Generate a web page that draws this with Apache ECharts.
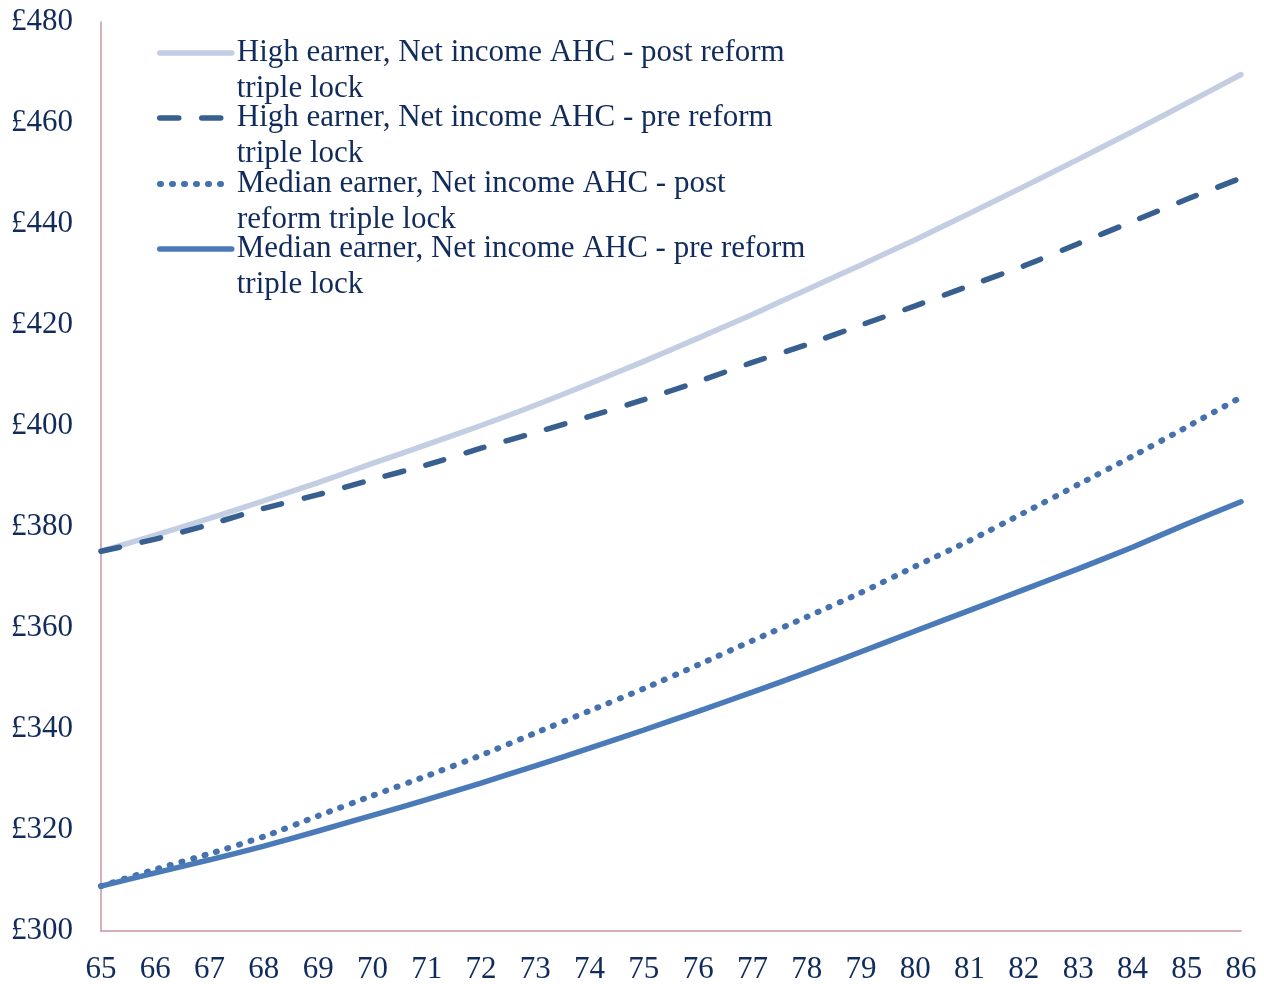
<!DOCTYPE html>
<html>
<head>
<meta charset="utf-8">
<script src="https://cdn.jsdelivr.net/npm/echarts@6/dist/echarts.min.js"></script>
<style>
html,body{margin:0;padding:0;background:#fff;}
#chart{width:1264px;height:984px;}
</style>
</head>
<body>
<div id="chart"></div>
<script>
const ages = ['65','66','67','68','69','70','71','72','73','74','75','76','77','78','79','80','81','82','83','84','85','86'];
const highPost = [375.2,378.4,381.7,385.2,388.8,392.6,396.3,400.1,404.1,408.4,412.8,417.4,422.1,427.0,431.9,436.9,442.1,447.4,452.8,458.3,463.9,469.6];
const highPre = [375.2,377.6,380.5,383.7,386.4,389.4,392.3,395.6,398.7,401.9,405.2,408.8,412.6,416.1,420.0,423.8,427.8,431.7,436.1,440.5,444.9,449.1];
const medianPost = [308.9,312.2,315.3,318.7,322.8,326.8,330.7,334.8,339.2,343.6,348.0,352.7,357.5,362.2,367.0,372.2,377.3,382.8,388.4,394.0,399.8,405.7];
const medianPre = [308.9,311.5,314.1,316.8,319.8,322.9,326.0,329.3,332.7,336.2,339.8,343.5,347.3,351.2,355.3,359.4,363.5,367.6,371.7,376.0,380.6,385.0];
const seriesNames = [
  'High earner, Net income AHC - post reform triple lock',
  'High earner, Net income AHC - pre reform triple lock',
  'Median earner, Net income AHC - post reform triple lock',
  'Median earner, Net income AHC - pre reform triple lock'
];
const legendLines = [
  ['High earner, Net income AHC - post reform', 'triple lock'],
  ['High earner, Net income AHC - pre reform', 'triple lock'],
  ['Median earner, Net income AHC - post', 'reform triple lock'],
  ['Median earner, Net income AHC - pre reform', 'triple lock']
];
const yTicks = {min: 300, max: 480, interval: 20};

const FONT = '"Liberation Serif", "DejaVu Serif", serif';
const TEXT = '#112B5C';
const AXIS = '#C9959F';
const colors = ['#C3CEE2', '#375F8F', '#4572AE', '#4A7AB8'];
const lineTypes = ['solid', [19, 23], [1, 11], 'solid'];
const widths = [5.5, 5.5, 6, 5.5];

const iconY = [51, 116, 182, 247];
const legends = seriesNames.map((n, i) => ({
  data: [n],
  left: 157,
  top: iconY[i] - 52,
  padding: 0,
  itemWidth: 72,
  itemHeight: 14,
  itemGap: 0,
  formatter: () => '\u00a0\n' + legendLines[i].join('\n'),
  itemStyle: {opacity: 0},
  lineStyle: {width: widths[i], cap: 'round'},
  textStyle: {
    fontFamily: FONT,
    fontSize: 31,
    color: TEXT,
    lineHeight: 36
  }
}));

const series = seriesNames.map((n, i) => ({
  name: n,
  type: 'line',
  data: [highPost, highPre, medianPost, medianPre][i],
  symbol: 'none',
  smooth: 0.2,
  color: colors[i],
  lineStyle: {color: colors[i], width: widths[i], type: lineTypes[i], cap: 'round'}
}));

const chart = echarts.init(document.getElementById('chart'), null, {renderer: 'canvas'});
chart.setOption({
  animation: false,
  backgroundColor: '#fff',
  grid: {left: 101, right: 23, top: 22, bottom: 53, containLabel: false, outerBoundsMode: 'none'},
  legend: legends,
  xAxis: {
    type: 'category',
    data: ages,
    boundaryGap: false,
    axisLine: {lineStyle: {color: AXIS, width: 1.5}},
    axisTick: {show: false},
    splitLine: {show: false},
    axisLabel: {margin: 23, fontFamily: FONT, fontSize: 31, color: TEXT, interval: 0}
  },
  yAxis: {
    type: 'value',
    min: yTicks.min,
    max: yTicks.max,
    interval: yTicks.interval,
    axisLine: {show: true, lineStyle: {color: AXIS, width: 1.5}},
    axisTick: {show: false},
    splitLine: {show: false},
    axisLabel: {margin: 28, fontFamily: FONT, fontSize: 31, color: TEXT, formatter: '£{value}'}
  },
  series: series
});
</script>
</body>
</html>
